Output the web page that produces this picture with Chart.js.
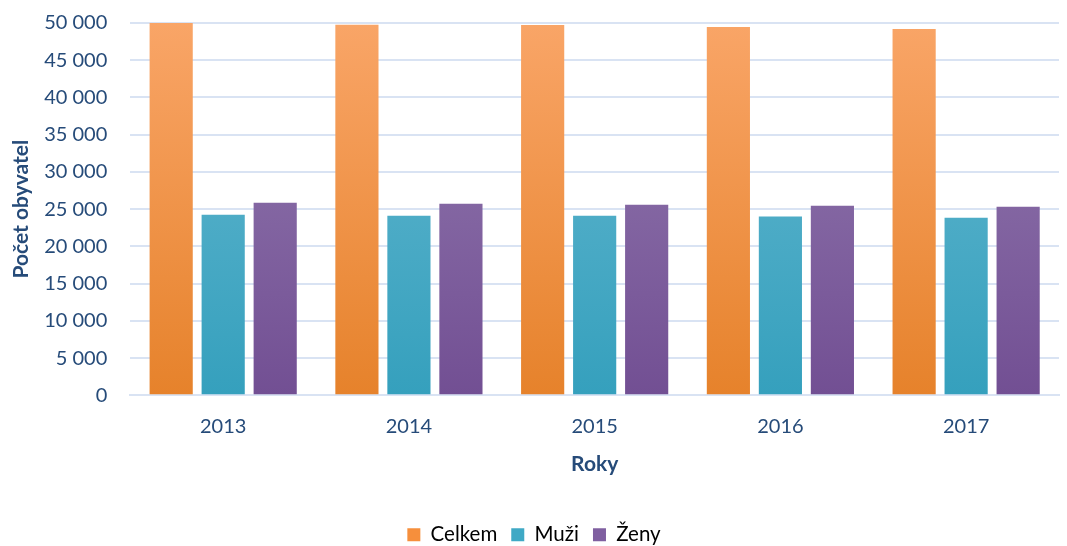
<!DOCTYPE html>
<html>
<head>
<meta charset="utf-8">
<script src="https://cdn.jsdelivr.net/npm/chart.js@4.4.0/dist/chart.umd.min.js"></script>
<style>
  html, body { margin: 0; padding: 0; background: #fff; }
  #wrap { width: 1067px; height: 546px; }
</style>
</head>
<body>
<div id="wrap"><canvas id="populationChart"></canvas></div>
<script>
const years = ['2013', '2014', '2015', '2016', '2017'];
const celkem = [50100, 49750, 49730, 49460, 49200];
const muzi = [24250, 24130, 24120, 24000, 23860];
const zeny = [25870, 25740, 25600, 25470, 25330];
const yTicks = [0, 5000, 10000, 15000, 20000, 25000, 30000, 35000, 40000, 45000, 50000];

const textColor = '#264b79';
const gridColor = '#d9e3f3';

function gradient(top, bottom) {
  return (ctx) => {
    const area = ctx.chart.chartArea;
    if (!area) return bottom;
    const g = ctx.chart.ctx.createLinearGradient(0, area.top, 0, area.bottom);
    g.addColorStop(0, top);
    g.addColorStop(1, bottom);
    return g;
  };
}

function fmt(v) {
  return String(v).replace(/\B(?=(\d{3})+(?!\d))/g, ' ');
}

function draw() {
  new Chart(document.getElementById('populationChart'), {
    type: 'bar',
    data: {
      labels: years,
      datasets: [
        { label: 'Celkem', data: celkem, backgroundColor: gradient('#f9a567', '#e6822b') },
        { label: 'Muži', data: muzi, backgroundColor: gradient('#66b8d0', '#35a0bd') },
        { label: 'Ženy', data: zeny, backgroundColor: gradient('#937bb0', '#724f93') }
      ]
    },
    options: {
      responsive: true,
      maintainAspectRatio: false,
      animation: false,
      categoryPercentage: 0.84,
      barPercentage: 0.83,
      layout: { padding: { top: 0, right: 8, left: 9, bottom: -9 } },
      plugins: {
        legend: {
          position: 'bottom',
          labels: {
            color: textColor,
            font: { family: 'Lato', size: 20.5 },
            boxWidth: 13,
            boxHeight: 13,
            padding: 14,
            generateLabels: (chart) => chart.data.datasets.map((ds, i) => ({
              text: ds.label,
              fillStyle: ['#f68f3c', '#3fa9c5', '#7f5fa0'][i],
              strokeStyle: 'transparent',
              lineWidth: 0,
              datasetIndex: i
            }))
          }
        },
        tooltip: { enabled: false }
      },
      scales: {
        x: {
          grid: { display: false },
          border: { color: gridColor, width: 2 },
          ticks: { color: textColor, font: { family: 'Lato', size: 20 }, padding: 11 },
          title: {
            display: true,
            text: 'Roky',
            color: textColor,
            font: { family: 'Lato', size: 21, weight: 'bold' },
            padding: { top: 2, bottom: 34 }
          }
        },
        y: {
          min: 0,
          max: 50000,
          afterBuildTicks: (axis) => { axis.ticks = yTicks.map(v => ({ value: v })); },
          grid: { color: gridColor, lineWidth: 2, drawTicks: true, tickLength: 18, tickColor: 'transparent' },
          border: { display: false },
          ticks: {
            autoSkip: false,
            color: textColor,
            font: { family: 'Lato', size: 20, lineHeight: 1.8 },
            padding: 5,
            callback: (v) => fmt(v)
          },
          title: {
            display: true,
            text: 'Počet obyvatel',
            color: textColor,
            font: { family: 'Lato', size: 21, weight: 'bold' },
            padding: { top: 0, bottom: 5 }
          }
        }
      }
    }
  });
}

Promise.all([
  document.fonts.load('20px Lato'),
  document.fonts.load('bold 21px Lato')
]).then(draw, draw);
</script>
</body>
</html>
